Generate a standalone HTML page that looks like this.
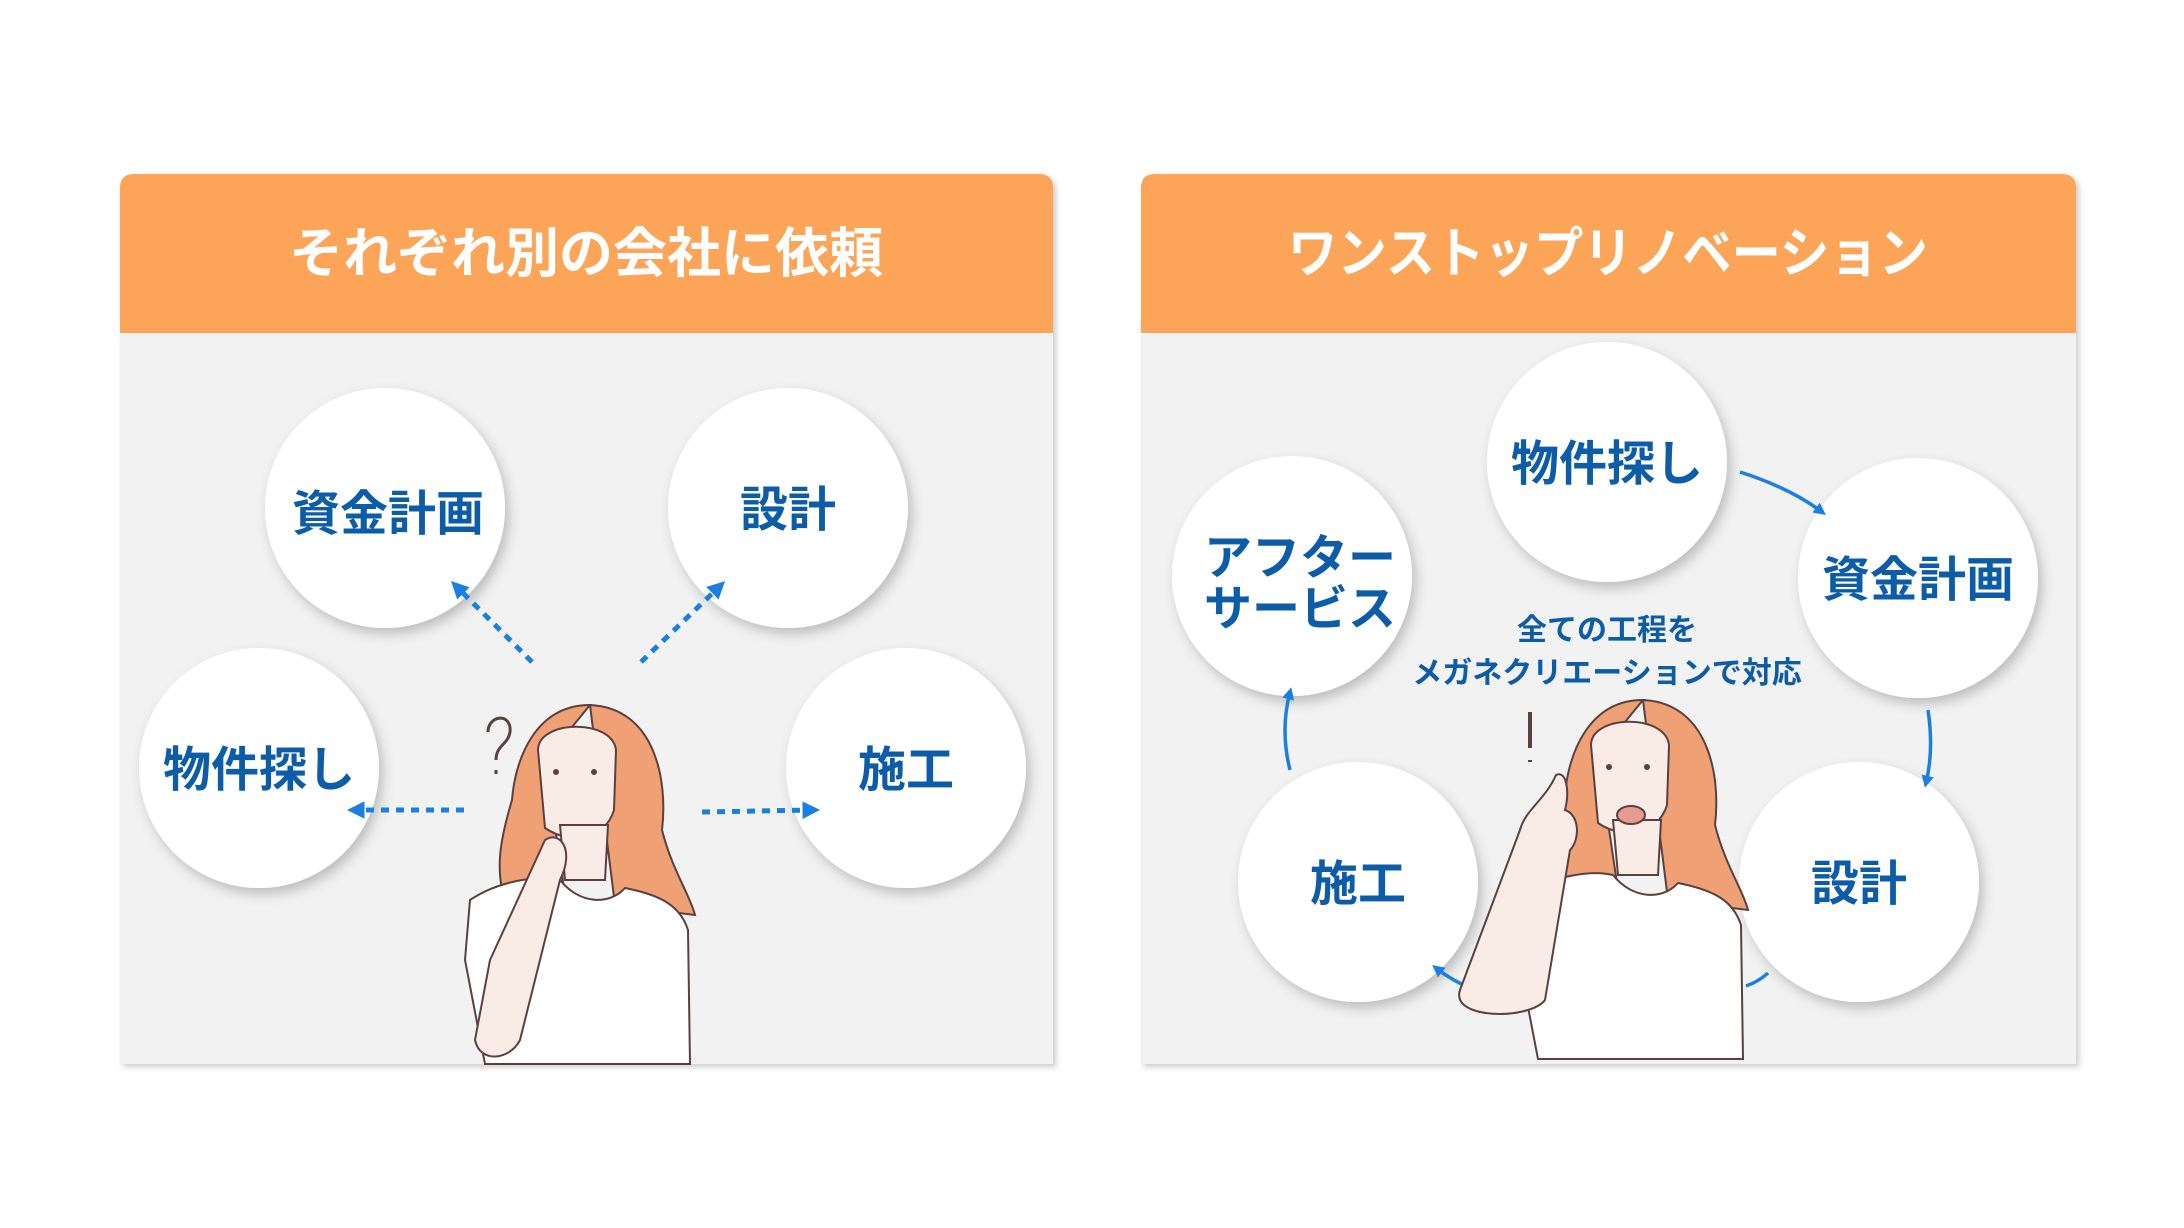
<!DOCTYPE html>
<html><head><meta charset="utf-8"><style>
html,body{margin:0;padding:0;background:#fff;}
svg{display:block}
text{font-family:"Liberation Sans","Noto Sans CJK JP",sans-serif;}
</style></head><body>
<svg width="2184" height="1228" viewBox="0 0 2184 1228" xmlns="http://www.w3.org/2000/svg">
<defs>
<filter id="sh" x="-30%" y="-30%" width="160%" height="160%"><feDropShadow dx="4" dy="6" stdDeviation="6" flood-color="#000" flood-opacity="0.22"/></filter>
<filter id="ps" x="-5%" y="-5%" width="110%" height="110%"><feDropShadow dx="3" dy="3" stdDeviation="3" flood-color="#000" flood-opacity="0.2"/></filter>
<marker id="ah" viewBox="0 0 10 10" refX="6" refY="5" markerWidth="3.5" markerHeight="3.5" orient="auto"><path d="M0,0 L10,5 L0,10 z" fill="#1a7fe0"/></marker>
<g id="woman">
 <path d="M590,705 C535,705 515,760 512,800 C500,840 495,870 505,900 L565,895 L545,760 Z" fill="#f0a075" stroke="#5a4040" stroke-width="2"/>
 <path d="M590,705 C655,708 668,780 662,830 C672,870 690,895 695,915 L615,905 Z" fill="#f0a075" stroke="#5a4040" stroke-width="2"/>
 <path d="M538,750 C538,720 612,718 616,750 L614,810 C605,840 570,845 545,828 Z" fill="#f9ece6" stroke="#5a4040" stroke-width="2"/>
 <path d="M560,825 L565,880 L605,880 L608,825 Z" fill="#f9ece6" stroke="#5a4040" stroke-width="2"/>
 <path d="M470,900 C500,880 540,875 560,880 C580,905 610,905 625,888 C660,895 680,905 688,930 L690,1064 L485,1064 L465,960 Z" fill="#fff" stroke="#5a4040" stroke-width="2"/>
 <circle cx="556" cy="772" r="3" fill="#5a4040"/><circle cx="594" cy="772" r="3" fill="#5a4040"/>
</g>
</defs>

<g filter="url(#ps)">
<path d="M120,188 Q120,174 134,174 L1039,174 Q1053,174 1053,188 L1053,1064 L120,1064 Z" fill="#f2f2f2"/>
</g>
<path d="M120,188 Q120,174 134,174 L1039,174 Q1053,174 1053,188 L1053,333 L120,333 Z" fill="#fca457"/>
<text x="586" y="272" font-size="54" font-weight="bold" fill="#fff" text-anchor="middle">それぞれ別の会社に依頼</text>

<g filter="url(#ps)">
<path d="M1141,188 Q1141,174 1155,174 L2062,174 Q2076,174 2076,188 L2076,1064 L1141,1064 Z" fill="#f2f2f2"/>
</g>
<path d="M1141,188 Q1141,174 1155,174 L2062,174 Q2076,174 2076,188 L2076,333 L1141,333 Z" fill="#fca457"/>
<text x="1608" y="272" font-size="54" font-weight="bold" fill="#fff" text-anchor="middle" textLength="640" lengthAdjust="spacingAndGlyphs">ワンストップリノベーション</text>

<g filter="url(#sh)" fill="#fff">
<circle cx="385" cy="508" r="120"/><circle cx="788" cy="508" r="120"/>
<circle cx="259" cy="768" r="120"/><circle cx="906" cy="768" r="120"/>
<circle cx="1607" cy="462" r="120"/><circle cx="1918" cy="578" r="120"/>
<circle cx="1292" cy="576" r="120"/><circle cx="1358" cy="882" r="120"/>
<circle cx="1859" cy="882" r="120"/>
</g>

<g font-size="48" font-weight="bold" fill="#0d5ca8" text-anchor="middle">
<text x="388" y="530">資金計画</text>
<text x="788" y="526">設計</text>
<text x="259" y="786">物件探し</text>
<text x="906" y="786">施工</text>
<text x="1607" y="480">物件探し</text>
<text x="1918" y="596">資金計画</text>
<text x="1300" y="574">アフター</text>
<text x="1300" y="625">サービス</text>
<text x="1358" y="900">施工</text>
<text x="1859" y="900">設計</text>
</g>
<g font-size="30" font-weight="bold" fill="#0d5ca8" text-anchor="middle">
<text x="1607" y="640">全ての工程を</text>
<text x="1607" y="683">メガネクリエーションで対応</text>
</g>

<g stroke="#1a7fe0" stroke-width="5" stroke-dasharray="8 7" fill="none" marker-end="url(#ah)">
<path d="M532,662 L456,586"/>
<path d="M641,662 L720,586"/>
<path d="M464,810 L354,810"/>
<path d="M702,812 L813,810"/>
</g>

<g stroke="#1a7fe0" stroke-width="3.5" fill="none" marker-end="url(#ah)">
<path d="M1740,472 Q1790,488 1822,512"/>
<path d="M1928,710 Q1934,750 1926,783"/>
<path d="M1529,1005 Q1470,995 1436,968"/>
<path d="M1290,770 Q1280,730 1290,692"/>
</g>
<path d="M1768,973 Q1758,982 1746,986" stroke="#1a7fe0" stroke-width="3.5" fill="none"/>

<use href="#woman"/>
<path d="M488,732 C488,715 512,712 510,732 C508,745 496,745 496,760 M496,770 L496,774" stroke="#5a4040" stroke-width="3" fill="none"/>
<path d="M545,840 C560,830 575,850 560,880 L520,1040 C510,1060 480,1064 475,1040 L490,960 Z" fill="#f9ece6" stroke="#5a4040" stroke-width="2"/>

<use href="#woman" transform="translate(1053,-5)"/>
<path d="M1530,712 L1530,748 M1530,760 L1530,762" stroke="#5a4040" stroke-width="4" fill="none"/>
<path d="M1556,775 C1566,770 1570,790 1565,810 C1580,815 1580,840 1570,850 L1545,1000 C1530,1020 1450,1020 1460,990 L1520,830 C1525,810 1545,800 1556,775 Z" fill="#f9ece6" stroke="#5a4040" stroke-width="2"/>
<ellipse cx="1631" cy="815" rx="14" ry="9" fill="#e89a90" stroke="#5a4040" stroke-width="2"/>
</svg>
</body></html>
